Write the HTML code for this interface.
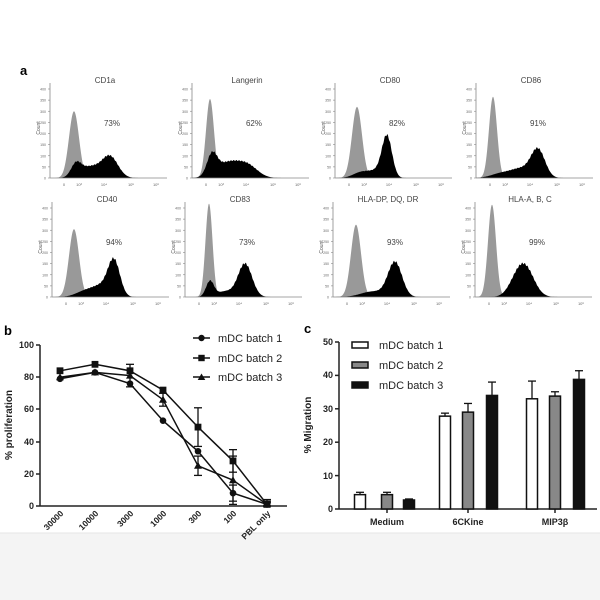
<!DOCTYPE html>
<html><head><style>
body{margin:0;background:#fff;}
svg{display:block;font-family:"Liberation Sans",Arial,sans-serif;}
</style></head><body>
<svg id="s" width="600" height="600" viewBox="0 0 600 600">
<rect x="0" y="0" width="600" height="600" fill="#fff"/>
<rect x="0" y="533" width="600" height="67" fill="#f4f4f4"/>
<line x1="0" y1="533" x2="600" y2="533" stroke="#e6e6e6"/>
<text x="20" y="75" font-size="13" font-weight="bold">a</text>
<g id="hist"></g>

<!-- Panel b -->
<text x="4" y="335" font-size="13" font-weight="bold">b</text>
<g stroke="#222" stroke-width="1.5" fill="none">
<line x1="40" y1="345" x2="40" y2="506"/>
<line x1="40" y1="506" x2="287" y2="506"/>
<line x1="36" y1="345" x2="40" y2="345"/><line x1="36" y1="377" x2="40" y2="377"/><line x1="36" y1="409" x2="40" y2="409"/><line x1="36" y1="442" x2="40" y2="442"/><line x1="36" y1="474" x2="40" y2="474"/><line x1="36" y1="506" x2="40" y2="506"/>
</g>
<g font-size="9" font-weight="bold" text-anchor="end" fill="#222">
<text x="34" y="348">100</text><text x="34" y="380">80</text><text x="34" y="412">60</text><text x="34" y="445">40</text><text x="34" y="477">20</text><text x="34" y="509">0</text>
</g>
<text transform="translate(12,425) rotate(-90)" font-size="10" font-weight="bold" text-anchor="middle" fill="#222">% proliferation</text>
<g id="bp"></g>
<g font-size="8.5" font-weight="bold" fill="#222" text-anchor="end">
<text transform="translate(64,514) rotate(-45)">30000</text>
<text transform="translate(99,514) rotate(-45)">10000</text>
<text transform="translate(134,514) rotate(-45)">3000</text>
<text transform="translate(167,514) rotate(-45)">1000</text>
<text transform="translate(202,514) rotate(-45)">300</text>
<text transform="translate(237,514) rotate(-45)">100</text>
<text transform="translate(271,514) rotate(-45)">PBL only</text>
</g>
<g stroke="#111" stroke-width="1.5">
<line x1="193" y1="338" x2="210" y2="338"/><line x1="193" y1="358" x2="210" y2="358"/><line x1="193" y1="377" x2="210" y2="377"/>
</g>
<circle cx="201.5" cy="338" r="3.2" fill="#111"/>
<rect x="198.3" y="354.8" width="6.4" height="6.4" fill="#111"/>
<polygon points="201.5,373.5 205.3,380 197.7,380" fill="#111"/>
<g font-size="11" fill="#222">
<text x="218" y="342">mDC batch 1</text><text x="218" y="362">mDC batch 2</text><text x="218" y="381">mDC batch 3</text>
</g>

<!-- Panel c -->
<text x="304" y="333" font-size="13" font-weight="bold">c</text>
<g stroke="#222" stroke-width="1.5" fill="none">
<line x1="339" y1="342" x2="339" y2="509"/>
<line x1="339" y1="509" x2="597" y2="509"/>
<line x1="335" y1="342" x2="339" y2="342"/><line x1="335" y1="375.4" x2="339" y2="375.4"/><line x1="335" y1="408.8" x2="339" y2="408.8"/><line x1="335" y1="442.2" x2="339" y2="442.2"/><line x1="335" y1="475.6" x2="339" y2="475.6"/><line x1="335" y1="509" x2="339" y2="509"/>
<line x1="387" y1="509" x2="387" y2="513"/><line x1="468" y1="509" x2="468" y2="513"/><line x1="555" y1="509" x2="555" y2="513"/>
</g>
<g font-size="9" font-weight="bold" text-anchor="end" fill="#222">
<text x="333" y="345">50</text><text x="333" y="378">40</text><text x="333" y="412">30</text><text x="333" y="445">20</text><text x="333" y="479">10</text><text x="333" y="512">0</text>
</g>
<text transform="translate(311,425) rotate(-90)" font-size="10" font-weight="bold" text-anchor="middle" fill="#222">% Migration</text>
<g id="cb"></g>
<g font-size="9" font-weight="bold" text-anchor="middle" fill="#222">
<text x="387" y="525">Medium</text><text x="468" y="525">6CKine</text><text x="555" y="525">MIP3β</text>
</g>
<rect x="352" y="342" width="16" height="6" fill="#fff" stroke="#111" stroke-width="1.5"/>
<rect x="352" y="362" width="16" height="6" fill="#888" stroke="#111" stroke-width="1.5"/>
<rect x="352" y="382" width="16" height="6" fill="#111" stroke="#111" stroke-width="1.5"/>
<g font-size="11" fill="#222">
<text x="379" y="349">mDC batch 1</text><text x="379" y="369">mDC batch 2</text><text x="379" y="389">mDC batch 3</text>
</g>
</svg>
<script>
var NS="http://www.w3.org/2000/svg";
function el(p,t,a){var e=document.createElementNS(NS,t);for(var k in a)e.setAttribute(k,a[k]);p.appendChild(e);return e;}
var H=document.getElementById('hist');
var panels=[
 {ax:50,by:178,t:"CD1a",p:"73%",g:[24,5,300],b:[[26,5,55],[40,10,50],[60,8,95]]},
 {ax:192,by:178,t:"Langerin",p:"62%",g:[18,4,355],b:[[20,5,90],[36,12,68],[56,10,50]]},
 {ax:335,by:178,t:"CD80",p:"82%",g:[22,5,320],b:[[26,8,25],[42,8,30],[52,5,180]]},
 {ax:476,by:178,t:"CD86",p:"91%",g:[17,4,365],b:[[25,10,20],[45,10,40],[62,7,125]]},
 {ax:52,by:297,t:"CD40",p:"94%",g:[22,5,305],b:[[35,10,30],[50,8,40],[62,6,160]]},
 {ax:185,by:297,t:"CD83",p:"73%",g:[24,3.5,420],b:[[25,4,70],[40,8,25],[60,7,150]]},
 {ax:333,by:297,t:"HLA-DP, DQ, DR",p:"93%",g:[23,5,325],b:[[40,12,25],[62,7,155]]},
 {ax:475,by:297,t:"HLA-A, B, C",p:"99%",g:[17,4,415],b:[[40,8,40],[50,9,130]]}
];
var sc=0.2225;
function path(ax,by,comps,jit){
 var d="M"+ax+","+by;
 for(var x=0;x<=117;x+=0.5){var v=0;comps.forEach(function(c){v+=c[2]*Math.exp(-0.5*Math.pow((x-c[0])/c[1],2));});
  if(jit) v*=(1+0.03*Math.sin(x*2.3)*(v>30?1:0));
  d+=" L"+(ax+x).toFixed(1)+","+(by-v*sc).toFixed(1);}
 return d+" L"+(ax+117)+","+by+" Z";
}
panels.forEach(function(P){
 var ax=P.ax,by=P.by;
 el(H,'path',{d:path(ax,by,[P.g],false),fill:'#999'});
 el(H,'path',{d:path(ax,by,P.b,true),fill:'#000'});
 el(H,'line',{x1:ax,y1:by-95,x2:ax,y2:by,stroke:'#888','stroke-width':0.8});
 el(H,'line',{x1:ax,y1:by,x2:ax+117,y2:by,stroke:'#888','stroke-width':0.8});
 for(var i=0;i<=8;i++){var y=by-i*50*sc;el(H,'line',{x1:ax-2,y1:y,x2:ax,y2:y,stroke:'#888','stroke-width':0.6});
  var t=el(H,'text',{x:ax-4,y:y+1.5,'font-size':3.5,'text-anchor':'end',fill:'#666'});t.textContent=i*50;}
 var c=el(H,'text',{transform:'translate('+(ax-10)+','+(by-50)+') rotate(-90)','font-size':5,'text-anchor':'middle',fill:'#555'});c.textContent="Count";
 [[14,"0"],[29,"10³"],[54,"10⁴"],[81,"10⁵"],[106,"10⁶"]].forEach(function(k){
  var t=el(H,'text',{x:ax+k[0],y:by+8,'font-size':4,'text-anchor':'middle',fill:'#666'});t.textContent=k[1];});
 var tt=el(H,'text',{x:ax+55,y:by-95,'font-size':8,'text-anchor':'middle',fill:'#444'});tt.textContent=P.t;
 var pp=el(H,'text',{x:ax+62,y:by-52,'font-size':8,'text-anchor':'middle',fill:'#444'});pp.textContent=P.p;
});
var B=document.getElementById('bp');
var xs=[60,95,130,163,198,233,267];
function Y(v){return 506-v*1.61;}
var ser=[
 {v:[79,83,76,53,34,8,1],e:[0,0,0,0,0,5,1],m:'c'},
 {v:[84,88,84,72,49,28,1],e:[0,0,0,0,12,7,2],m:'s'},
 {v:[80,83,81,66,25,16,1],e:[0,0,7,4,6,15,3],m:'t'}];
ser.forEach(function(S){
 var pts=S.v.map(function(v,i){return xs[i]+","+Y(v).toFixed(1);}).join(" ");
 el(B,'polyline',{points:pts,fill:'none',stroke:'#111','stroke-width':1.5});
 S.v.forEach(function(v,i){var y=Y(v);
  if(S.e[i]>0){var y1=Y(v+S.e[i]),y2=Y(Math.max(0,v-S.e[i]));
   el(B,'line',{x1:xs[i],y1:y1,x2:xs[i],y2:y2,stroke:'#111','stroke-width':1.3});
   el(B,'line',{x1:xs[i]-4,y1:y1,x2:xs[i]+4,y2:y1,stroke:'#111','stroke-width':1.3});
   el(B,'line',{x1:xs[i]-4,y1:y2,x2:xs[i]+4,y2:y2,stroke:'#111','stroke-width':1.3});}
  if(S.m=='c')el(B,'circle',{cx:xs[i],cy:y,r:3.3,fill:'#111'});
  else if(S.m=='s')el(B,'rect',{x:xs[i]-3.4,y:y-3.4,width:6.8,height:6.8,fill:'#111'});
  else el(B,'polygon',{points:(xs[i])+","+(y-4)+" "+(xs[i]+4)+","+(y+3)+" "+(xs[i]-4)+","+(y+3),fill:'#111'});
 });
});
var C=document.getElementById('cb');
function YC(v){return 509-v*3.34;}
var bars=[[360,4.3,5,'#fff'],[387,4.3,5,'#888'],[409,2.7,3,'#111'],
 [445,27.8,28.7,'#fff'],[468,29,31.6,'#888'],[492,34,38,'#111'],
 [532,33,38.3,'#fff'],[555,33.8,35.1,'#888'],[579,38.8,41.4,'#111']];
bars.forEach(function(b){
 var x=b[0],y=YC(b[1]),ye=YC(b[2]);
 el(C,'line',{x1:x,y1:y,x2:x,y2:ye,stroke:'#111','stroke-width':1.3});
 el(C,'line',{x1:x-4,y1:ye,x2:x+4,y2:ye,stroke:'#111','stroke-width':1.3});
 el(C,'rect',{x:x-5.5,y:y,width:11,height:509-y,fill:b[3],stroke:'#111','stroke-width':1.5});
});
</script>
</body></html>
